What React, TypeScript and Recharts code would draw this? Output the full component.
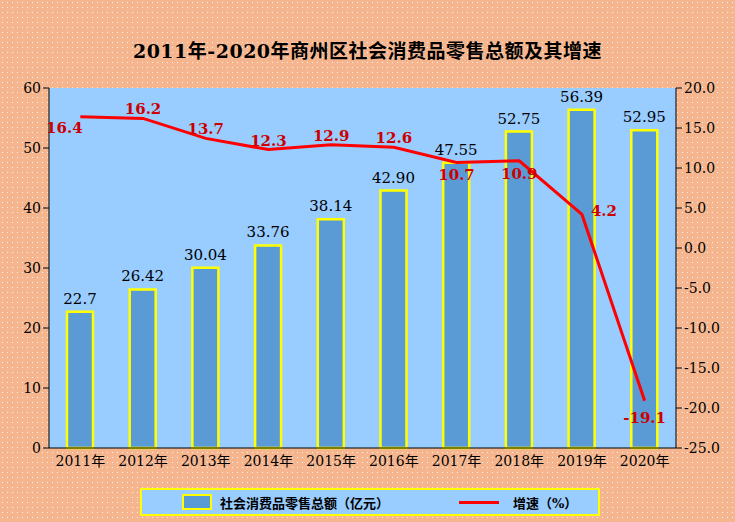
import { ComposedChart, Bar, Line, XAxis, YAxis, LabelList, CartesianGrid } from "recharts";

const years = ["2011年", "2012年", "2013年", "2014年", "2015年", "2016年", "2017年", "2018年", "2019年", "2020年"];
const sales = [22.7, 26.42, 30.04, 33.76, 38.14, 42.9, 47.55, 52.75, 56.39, 52.95];
const salesText = ["22.7", "26.42", "30.04", "33.76", "38.14", "42.90", "47.55", "52.75", "56.39", "52.95"];
const growth = [16.4, 16.2, 13.7, 12.3, 12.9, 12.6, 10.7, 10.9, 4.2, -19.1];
const leftTicks = [0, 10, 20, 30, 40, 50, 60];
const rightTicks = [-25, -20, -15, -10, -5, 0, 5, 10, 15, 20];

// label offsets for the growth labels (dx, dy)
const growthOffsets = [
  [-16, 16], [0, -4], [0, -4], [0, -4], [0, -4], [0, -4], [0, 18], [0, 18], [22, 2], [0, 22],
];

const data = years.map((y, i) => ({ year: y, sales: sales[i], growth: growth[i], salesText: salesText[i] }));

const font = "'DejaVu Serif', 'Liberation Serif', 'Noto Sans CJK SC', serif";

const GrowthLabel = (p: any) => {
  const [dx, dy] = growthOffsets[p.index];
  return (
    <text x={p.x + dx} y={p.y + dy} textAnchor="middle" fill="#CC0000" fontSize={15} fontWeight="bold" fontFamily={font}>
      {growth[p.index].toFixed(1)}
    </text>
  );
};

const SalesLabel = (p: any) => (
  <text x={p.x + p.width / 2} y={p.y - 8} textAnchor="middle" fill="#000" fontSize={15} fontFamily={font}>
    {salesText[p.index]}
  </text>
);

export default function App() {
  return (
    <div
      style={{
        position: "absolute", left: 0, top: 0, width: 735, height: 522, fontFamily: font,
        backgroundColor: "#F5B68F",
        backgroundImage: "radial-gradient(rgba(255,255,255,0.8) 0.8px, transparent 1px)",
        backgroundSize: "5px 5px",
      }}
    >
      <div style={{ position: "absolute", top: 36, width: 735, textAlign: "center", fontWeight: "bold", fontSize: 19, letterSpacing: 0.5 }}>
        2011年-2020年商州区社会消费品零售总额及其增速
      </div>
      <ComposedChart width={735} height={522} data={data} margin={{ top: 88, right: 9, bottom: 44, left: 9 }}>
        <CartesianGrid fill="#99CCFF" stroke="none" vertical={false} horizontal={false} />
        <XAxis dataKey="year" tick={{ fill: "#000", fontSize: 14, fontFamily: font }} tickLine={false} axisLine={{ stroke: "#000" }} height={30} />
        <YAxis yAxisId="l" domain={[0, 60]} ticks={leftTicks} width={40} tick={{ fill: "#000", fontSize: 14, fontFamily: font }} axisLine={{ stroke: "#000" }} tickLine={{ stroke: "#000" }} />
        <YAxis yAxisId="r" orientation="right" domain={[-25, 20]} ticks={rightTicks} width={50} tickFormatter={(v: number) => v.toFixed(1)} tick={{ fill: "#000", fontSize: 14, fontFamily: font }} axisLine={{ stroke: "#000" }} tickLine={{ stroke: "#000" }} />
        <Bar yAxisId="l" dataKey="sales" barSize={26} fill="#5B9BD5" stroke="#FFFF00" strokeWidth={2.5} isAnimationActive={false}>
          <LabelList dataKey="sales" content={SalesLabel} />
        </Bar>
        <Line yAxisId="r" dataKey="growth" stroke="#FF0000" strokeWidth={3} dot={false} type="linear" isAnimationActive={false}>
          <LabelList dataKey="growth" content={GrowthLabel} />
        </Line>
      </ComposedChart>
      <div style={{ position: "absolute", left: 140, top: 488, width: 460, height: 28, background: "#99CCFF", border: "2px solid #FFFF00", boxSizing: "border-box", display: "flex", alignItems: "center", fontSize: 13, fontWeight: "bold" }}>
        <span style={{ display: "inline-block", width: 26, height: 12, background: "#5B9BD5", border: "2px solid #FFFF00", marginLeft: 40, marginRight: 8 }} />
        社会消费品零售总额（亿元）
        <span style={{ display: "inline-block", width: 40, height: 3, background: "#FF0000", marginLeft: 70, marginRight: 14 }} />
        增速（%）
      </div>
    </div>
  );
}
